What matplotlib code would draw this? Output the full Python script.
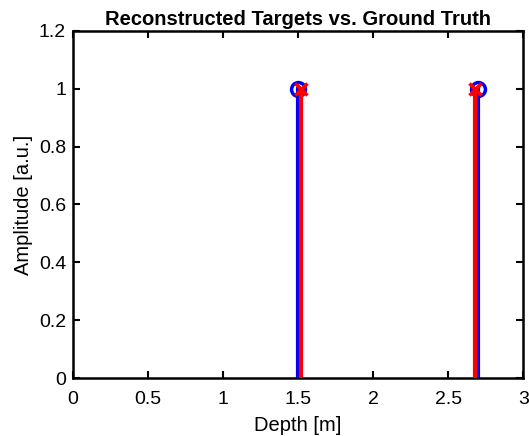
import numpy as np
import matplotlib
matplotlib.use("Agg")
import matplotlib.pyplot as plt

plt.rcParams['font.family'] = ['Liberation Sans', 'DejaVu Sans']

true_depth = [1.5, 2.7]
true_amp = [1.0, 1.0]
rec_depth = [1.52, 2.68]
rec_amp = [1.0, 1.0]

fig = plt.figure(figsize=(5.29, 4.36), dpi=100)
ax = fig.add_axes([0.138, 0.133, 0.851, 0.796])

for d, a in zip(true_depth, true_amp):
    ax.plot([d, d], [0, a], color='blue', lw=3, zorder=2)
ax.plot(true_depth, true_amp, 'o', mfc='none', mec='blue', ms=10, mew=2.5, zorder=3)
for d, a in zip(rec_depth, rec_amp):
    ax.plot([d, d], [0, a], color='red', lw=3, zorder=4)
ax.plot(rec_depth, rec_amp, 'x', color='red', ms=9, mew=2.5, zorder=5)

ax.set_xlim(0, 3)
ax.set_ylim(0, 1.2)
ax.set_xticks(np.arange(0, 3.01, 0.5))
ax.set_xticklabels(['0', '0.5', '1', '1.5', '2', '2.5', '3'])
ax.set_yticks(np.arange(0, 1.21, 0.2))
ax.set_yticklabels(['0', '0.2', '0.4', '0.6', '0.8', '1', '1.2'])
ax.tick_params(direction='in', top=True, right=True, labelsize=14, width=1.5, length=5, pad=5)
ax.tick_params(axis='x', pad=9)
for s in ax.spines.values():
    s.set_linewidth(1.8)
ax.set_xlabel('Depth [m]', fontsize=14.5, labelpad=6)
ax.set_ylabel('Amplitude [a.u.]', fontsize=14.5, labelpad=4)
ax.set_title('Reconstructed Targets vs. Ground Truth', fontsize=14.5, fontweight='bold', pad=4)

fig.savefig('out.png', dpi=100)
